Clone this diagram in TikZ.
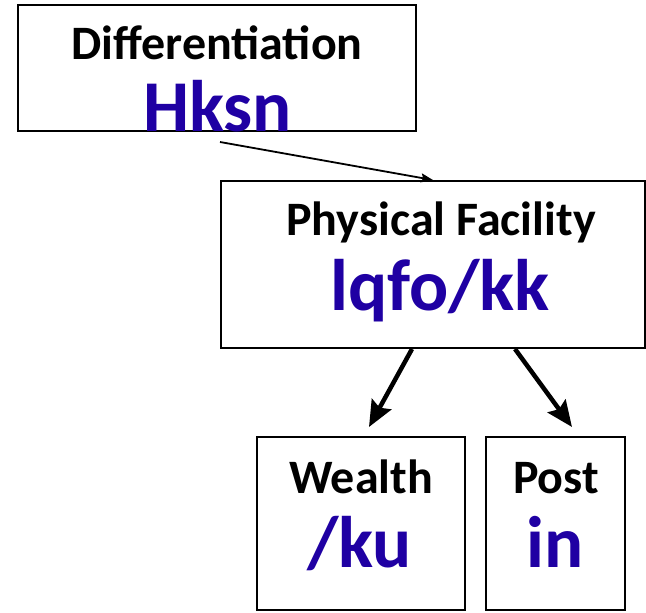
\documentclass[tikz,border=0pt]{standalone}
\usepackage{fontspec}
\setmainfont{Carlito}
\usetikzlibrary{arrows.meta,calc}
\definecolor{inkblue}{HTML}{1F00A3}
\begin{document}
\begin{tikzpicture}[x=1pt,y=-1pt,
  box/.style={draw=black, line width=2pt, inner sep=0pt},
  title/.style={font=\bfseries\fontsize{48}{52}\selectfont, anchor=base, inner sep=0pt},
  code/.style={font=\bfseries\fontsize{73}{80}\selectfont, text=inkblue, anchor=base, inner sep=0pt},
  thinlink/.style={draw=black, line width=1.8pt, -{Stealth[length=12pt,width=9pt,inset=2pt]}},
  thicklink/.style={draw=black, line width=4.5pt, -{Stealth[length=26pt,width=22pt,inset=4pt]}}]
  \useasboundingbox (0,0) rectangle (646,613);

  % boxes
  \node[box, minimum width=398pt, minimum height=126pt] (b1) at (217,68) {};
  \node[box, minimum width=424pt, minimum height=167pt] (b2) at (433,264.5) {};
  \node[box, minimum width=208pt, minimum height=173pt] (b3) at (361,523.5) {};
  \node[box, minimum width=139pt, minimum height=173pt] (b4) at (555.5,523.5) {};

  % labels
  \node[title] (t1) at (217,59) {Differentiation};
  \node[code]  (c1) at (217.5,131) {Hksn};
  \node[title] (t2) at (441,235) {Physical Facility};
  \node[code]  (c2) at (440,310) {lqfo/kk};
  \node[title] (t3) at (361,493) {Wealth};
  \node[code]  (c3) at (359.5,567) {/ku};
  \node[title] (t4) at (556,493) {Post};
  \node[code]  (c4) at (555.5,567) {in};

  % connectors
  \draw[thinlink] ($(b1.south)+(3,10)$) -- (b2.north);
  \draw[thicklink] ($(b2.south)+(-21,0)$) -- ($(b3.north)+(8,-9)$);
  \draw[thicklink] ($(b2.south)+(82,0)$) -- ($(b4.north)+(16.5,-9)$);
\end{tikzpicture}
\end{document}
